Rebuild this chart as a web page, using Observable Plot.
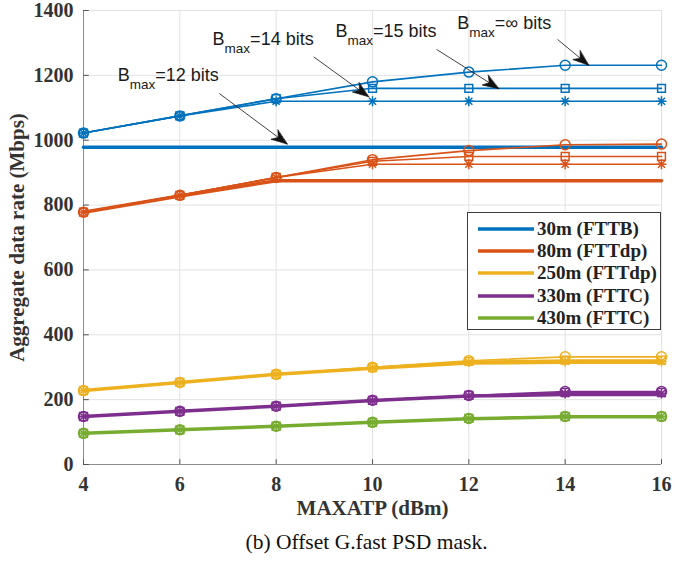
<!DOCTYPE html>
<html>
<head>
<meta charset="utf-8">
<script src="https://cdn.jsdelivr.net/npm/d3@7"></script>
<script src="https://cdn.jsdelivr.net/npm/@observablehq/plot@0.6"></script>
<style>
  body { margin: 0; background: white; }
  #wrap { position: relative; width: 689px; height: 565px; background: white; }
  #legend {
    position: absolute; left: 467px; top: 212px; width: 192px; height: 116px;
    background: white; border: 1px solid #3c3c3c;
    font: bold 19px "Liberation Serif", serif; color: #222;
  }
  #legend .row { position: absolute; left: 0; height: 22px; line-height: 22px; white-space: nowrap; }
  #legend svg { position: absolute; left: 10px; top: 9px; }
  #legend span { position: absolute; left: 69px; top: 0; }
  #caption {
    width: 645px; padding-left: 44px; height: 35px; line-height: 35px; text-align: center;
    font: 21.5px "Liberation Serif", serif; color: #111;
  }
</style>
</head>
<body>
<div id="wrap"><div id="chart"></div><div id="legend"></div><div id="caption">(b) Offset G.fast PSD mask.</div></div>
<script>
// Loop lengths (deployment scenarios) and their line colours
const loops = ["30m (FTTB)", "80m (FTTdp)", "250m (FTTdp)", "330m (FTTC)", "430m (FTTC)"];
const loopColors = ["#0072BD", "#D95319", "#EDB120", "#7E2F8E", "#77AC30"];

// MAXATP sweep (dBm)
const maxatp = [4, 6, 8, 10, 12, 14, 16];
const xTicks = [4, 6, 8, 10, 12, 14, 16];
const yTicks = [0, 200, 400, 600, 800, 1000, 1200, 1400];

// Aggregate data rate (Mbps) per loop length and bit-loading cap B_max
const r30_b12 = [978, 978, 978, 978, 978, 978, 978];
const r30_b14 = [1022, 1075, 1120, 1120, 1120, 1120, 1120];
const r30_b15 = [1022, 1075, 1128, 1160, 1160, 1160, 1160];
const r30_inf = [1022, 1075, 1128, 1180, 1210, 1231, 1231];

const r80_b12 = [778, 828, 875, 875, 875, 875, 875];
const r80_b14 = [778, 830, 885, 926, 926, 926, 926];
const r80_b15 = [778, 830, 885, 935, 950, 950, 950];
const r80_inf = [778, 830, 885, 940, 968, 986, 988];

const r250_b12 = [228, 253, 278, 297, 313, 315, 315];
const r250_b14 = [228, 253, 278, 298, 316, 318, 318];
const r250_b15 = [228, 253, 278, 299, 318, 322, 322];
const r250_inf = [228, 253, 278, 300, 320, 332, 332];

const r330_b12 = [148, 164, 180, 197, 211, 216, 216];
const r330_b14 = [148, 164, 180, 197, 212, 219, 219];
const r330_b15 = [148, 164, 180, 198, 213, 222, 222];
const r330_inf = [148, 164, 180, 198, 213, 225, 225];

const r430_b12 = [96, 107, 118, 130, 141, 147, 147];
const r430_b14 = [96, 107, 118, 130, 142, 148, 148];
const r430_b15 = [96, 107, 118, 130, 142, 148, 148];
const r430_inf = [96, 107, 118, 130, 142, 148, 148];

const seriesList = [
  [loops[0], "12", r30_b12], [loops[0], "14", r30_b14], [loops[0], "15", r30_b15], [loops[0], "inf", r30_inf],
  [loops[1], "12", r80_b12], [loops[1], "14", r80_b14], [loops[1], "15", r80_b15], [loops[1], "inf", r80_inf],
  [loops[2], "12", r250_b12], [loops[2], "14", r250_b14], [loops[2], "15", r250_b15], [loops[2], "inf", r250_inf],
  [loops[3], "12", r330_b12], [loops[3], "14", r330_b14], [loops[3], "15", r330_b15], [loops[3], "inf", r330_inf],
  [loops[4], "12", r430_b12], [loops[4], "14", r430_b14], [loops[4], "15", r430_b15], [loops[4], "inf", r430_inf]
];

// Annotations: label anchor and arrow (start -> tip) in data coordinates
const annoText = ["B_max=12 bits", "B_max=14 bits", "B_max=15 bits", "B_max=\u221E bits"];
const annoX = [4.71, 6.68, 9.23, 11.76];
const annoY = [1201, 1312, 1337, 1362];
const arrowX1 = [6.82, 8.78, 11.33, 13.84];
const arrowY1 = [1144, 1257, 1280, 1311];
const arrowX2 = [8.23, 9.92, 12.62, 14.49];
const arrowY2 = [988, 1134, 1159, 1231];

// Layout
const W = 689, H = 530, mL = 83, mR = 28, mT = 10, mB = 66;
const xDomain = [4, 16], yDomain = [0, 1400];

// Long table of points
const rows = seriesList.flatMap(([loop, bits, vals]) =>
  vals.map((v, i) => ({loop, bits, key: loop + "|" + bits, x: maxatp[i], y: v})));

const annos = annoText.map((t, i) => {
  // screen-space direction of each arrow, for orienting its head
  const kx = (W - mL - mR) / (xDomain[1] - xDomain[0]);
  const ky = (H - mT - mB) / (yDomain[1] - yDomain[0]);
  const dx = (arrowX2[i] - arrowX1[i]) * kx;
  const dy = -(arrowY2[i] - arrowY1[i]) * ky;
  return {
    text: t, tx: annoX[i], ty: annoY[i],
    x1: arrowX1[i], y1: arrowY1[i], x2: arrowX2[i], y2: arrowY2[i],
    angle: Math.atan2(dx, -dy) * 180 / Math.PI
  };
});

// 8-armed asterisk marker
const asterisk8 = {
  draw(ctx, size) {
    const r = Math.sqrt(size / Math.PI), d = r * Math.SQRT1_2;
    ctx.moveTo(-r, 0); ctx.lineTo(r, 0);
    ctx.moveTo(0, -r); ctx.lineTo(0, r);
    ctx.moveTo(-d, -d); ctx.lineTo(d, d);
    ctx.moveTo(-d, d); ctx.lineTo(d, -d);
  }
};

// Filled, notched arrowhead
const arrowHead = {
  draw(ctx, l) {
    const w = l * 0.36;
    ctx.moveTo(0, -l);
    ctx.lineTo(w, 0);
    ctx.lineTo(0, -l * 0.3);
    ctx.lineTo(-w, 0);
    ctx.closePath();
  }
};

const tickFont = {fontSize: 20, fontWeight: "bold", fontFamily: "Liberation Serif"};
const axisGray = "#8c8c8c";
const textGray = "#333333";

const thin = rows.filter(d => d.bits !== "12");
const thick = rows.filter(d => d.bits === "12");

const chart = Plot.plot({
  width: W, height: H,
  marginLeft: mL, marginRight: mR, marginTop: mT, marginBottom: mB,
  x: {domain: xDomain},
  y: {domain: yDomain},
  color: {domain: loops, range: loopColors},
  style: {background: "white", fontFamily: "Liberation Serif", overflow: "visible"},
  marks: [
    Plot.gridX(xTicks, {stroke: "#e2e2e2", strokeOpacity: 1}),
    Plot.gridY(yTicks, {stroke: "#e2e2e2", strokeOpacity: 1}),
    Plot.ruleX([4], {stroke: axisGray}),
    Plot.ruleY([0], {stroke: axisGray}),
    Plot.ruleY(yTicks, {x1: 4, x2: 4.12, stroke: "#555"}),
    Plot.ruleX(xTicks, {y1: 0, y2: 15, stroke: "#555"}),
    Plot.axisX(xTicks, {tickSize: 0, tickPadding: 12, label: null, tickFormat: d3.format("d"), color: textGray, ...tickFont}),
    Plot.axisY(yTicks, {tickSize: 0, tickPadding: 10, label: null, tickFormat: d3.format("d"), color: textGray, ...tickFont}),
    Plot.text(["MAXATP (dBm)"], {frameAnchor: "bottom", dy: 50, fontSize: 21, fontWeight: "bold", fill: textGray}),
    Plot.text(["Aggregate data rate (Mbps)"], {frameAnchor: "left", textAnchor: "middle", rotate: -90, dx: -66, fontSize: 21, fontWeight: "bold", fill: textGray}),
    // B_max = 12 bits: thick lines without markers
    Plot.line(thick, {x: "x", y: "y", z: "key", stroke: "loop", strokeWidth: 3.5}),
    // other caps: thinner lines with markers
    Plot.line(thin, {x: "x", y: "y", z: "key", stroke: "loop", strokeWidth: 1.6}),
    Plot.dot(rows.filter(d => d.bits === "inf"), {x: "x", y: "y", stroke: "loop", symbol: "circle", r: 5, strokeWidth: 1.5, fill: "none"}),
    Plot.dot(rows.filter(d => d.bits === "15"), {x: "x", y: "y", stroke: "loop", symbol: "square", r: 4.4, strokeWidth: 1.5, fill: "none"}),
    Plot.dot(rows.filter(d => d.bits === "14"), {x: "x", y: "y", stroke: "loop", symbol: asterisk8, r: 5, strokeWidth: 1.5, fill: "none"}),
    // annotations
    Plot.link(annos, {x1: "x1", y1: "y1", x2: "x2", y2: "y2", stroke: "#111", strokeWidth: 0.8}),
    Plot.vector(annos, {x: "x2", y: "y2", rotate: "angle", length: 16, anchor: "end", shape: arrowHead, fill: "#111", stroke: "#111", strokeWidth: 0.6}),
    Plot.text(annos, {x: "tx", y: "ty", text: "text", textAnchor: "start", fontFamily: "Liberation Sans", fontSize: 18, fill: "#1a1a1a"})
  ]
});

// Render "B_max" with a subscript
chart.querySelectorAll("text").forEach(t => {
  const s = t.textContent;
  if (!s.startsWith("B_max")) return;
  const rest = s.slice(5);
  t.textContent = "";
  const ns = "http://www.w3.org/2000/svg";
  t.appendChild(document.createTextNode("B"));
  const sub = document.createElementNS(ns, "tspan");
  sub.setAttribute("dy", "8");
  sub.setAttribute("font-size", "13.5");
  sub.textContent = "max";
  t.appendChild(sub);
  const tail = document.createElementNS(ns, "tspan");
  tail.setAttribute("dy", "-8");
  tail.textContent = rest;
  t.appendChild(tail);
});

document.getElementById("chart").appendChild(chart);

// Legend: line style of each loop length
const legend = document.getElementById("legend");
loops.forEach((name, i) => {
  const row = document.createElement("div");
  row.className = "row";
  row.style.top = (5 + i * 22.2) + "px";
  row.innerHTML = `<svg width="56" height="4"><line x1="0" x2="56" y1="2" y2="2" stroke="${loopColors[i]}" stroke-width="3.5"/></svg><span>${name}</span>`;
  legend.appendChild(row);
});
</script>
</body>
</html>
